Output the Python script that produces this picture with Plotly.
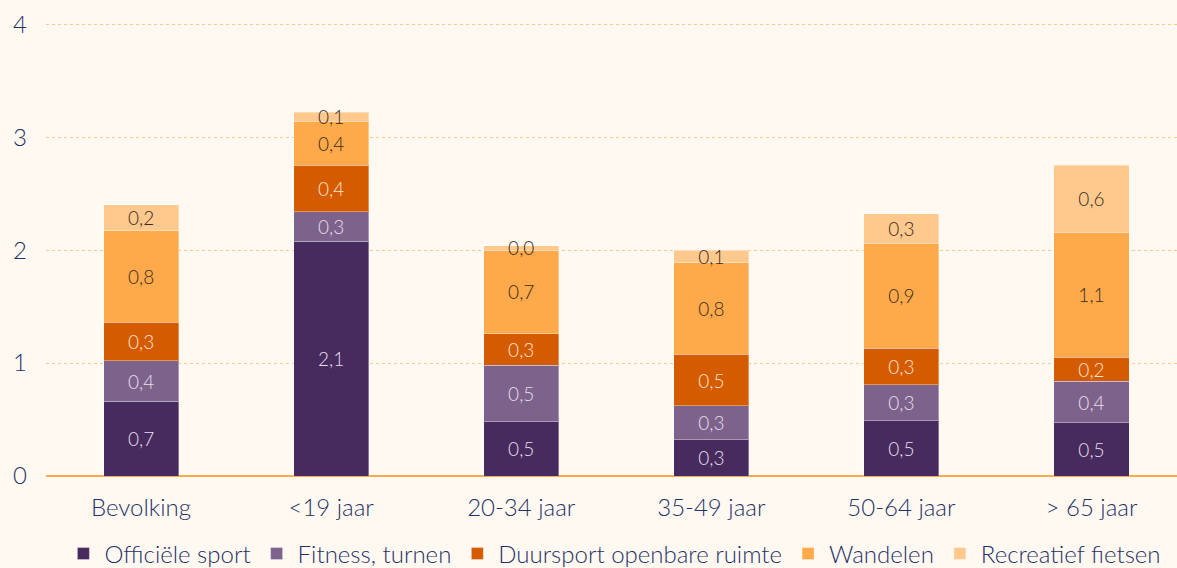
import plotly.graph_objects as go

categories = ["Bevolking", "<19 jaar", "20-34 jaar", "35-49 jaar", "50-64 jaar", "> 65 jaar"]
officiele_sport = [0.66, 2.08, 0.48, 0.32, 0.49, 0.47]
fitness_turnen = [0.36, 0.26, 0.50, 0.30, 0.32, 0.37]
duursport = [0.34, 0.41, 0.28, 0.46, 0.32, 0.21]
wandelen = [0.81, 0.39, 0.74, 0.81, 0.93, 1.11]
recreatief_fietsen = [0.23, 0.08, 0.04, 0.11, 0.26, 0.59]

series = [
    ("Officiële sport", officiele_sport, "#472B5E", "#E6DFEA"),
    ("Fitness, turnen", fitness_turnen, "#7D628C", "#E6DFEA"),
    ("Duursport openbare ruimte", duursport, "#D45B00", "#FBE3CF"),
    ("Wandelen", wandelen, "#FFAA4A", "#3A2A20"),
    ("Recreatief fietsen", recreatief_fietsen, "#FFC98D", "#3A2A20"),
]

def fmt(v):
    return f"{v:.1f}".replace(".", ",")

fig = go.Figure()
for name, vals, color, tcolor in series:
    fig.add_trace(go.Bar(
        x=categories, y=vals, name=name,
        marker=dict(color=color, line=dict(color="rgba(255,255,255,0.35)", width=1)),
        text=[fmt(v) for v in vals],
        textposition="inside", insidetextanchor="middle",
        constraintext="none",
        textfont=dict(family="Lato", size=19, color=tcolor, weight=300),
        width=0.395,
    ))

bg = "#FFF9F2"
navy = "#1F3268"
fig.update_layout(
    barmode="stack",
    width=1177, height=568,
    paper_bgcolor=bg, plot_bgcolor=bg,
    margin=dict(l=46, r=0, t=22, b=92, autoexpand=False),
    font=dict(family="Lato", size=24, color=navy, weight=300),
    showlegend=True,
    legend=dict(orientation="h", x=0.522, xanchor="center", xref="container",
                y=14 / 568, yanchor="middle", yref="container",
                font=dict(size=24, color=navy, family="Lato", weight=300),
                traceorder="normal", itemwidth=32, bgcolor="rgba(0,0,0,0)"),
    xaxis=dict(range=[-0.5, 5.45], showgrid=False, showline=False, ticks="",
               tickfont=dict(size=24, color=navy, family="Lato", weight=300),
               ticklabelstandoff=15),
    yaxis=dict(range=[0, 4.02], dtick=1, showgrid=True, gridcolor="#FFC98D",
               griddash="dot", gridwidth=1, zeroline=True, zerolinecolor="#FFAA4A",
               zerolinewidth=2, showline=False, ticks="",
               tickfont=dict(size=24, color=navy, family="Lato", weight=300),
               ticklabelstandoff=18),
)
fig.write_html("out.html", config={"displayModeBar": False},
               post_script="document.body.style.margin='0';document.body.style.background='#FFF9F2';")
